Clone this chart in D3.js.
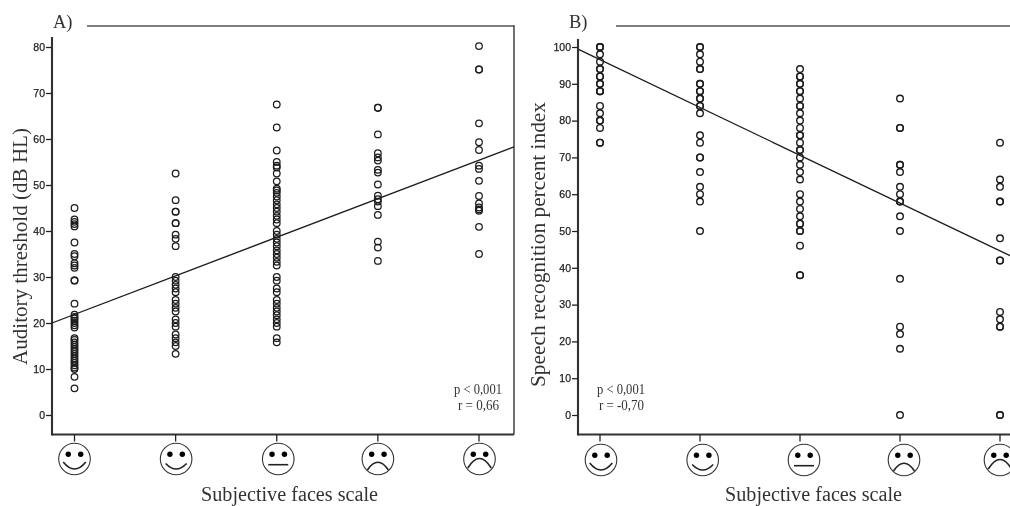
<!DOCTYPE html>
<html>
<head>
<meta charset="utf-8">
<script src="https://cdnjs.cloudflare.com/ajax/libs/d3/7.8.5/d3.min.js"></script>
<style>
html,body{margin:0;padding:0;background:#fff;overflow:hidden}
svg{display:block}
.serif{font-family:"Liberation Serif",serif;fill:#333}
.tick text{font-family:"Liberation Sans",Arial,sans-serif;font-size:10.5px;fill:#222;stroke:#222;stroke-width:.25px}
</style>
</head>
<body>
<svg id="chart" width="1010" height="506"></svg>
<script>
const faces = ["big", "smile", "flat", "sad", "bigsad"];
const yTicksA = [0,10,20,30,40,50,60,70,80];
const yTicksB = [0,10,20,30,40,50,60,70,80,90,100];

const a1 = [45,42.5,42,41.5,41,37.5,35,34.5,33,32.5,32,29.3,29.2,24.2,21.8,21.3,21,20.5,20,19.5,19,16.7,16.3,15.8,15.3,14.8,14.3,13.8,13.3,12.8,12.3,11.8,11.3,10.8,10.3,10,8.3,5.8];
const a2 = [52.5,46.7,44.2,44.2,41.7,41.7,39.2,38.3,36.7,30,29.2,28.3,27.5,26.7,25,24.2,23.3,22.5,20.8,20,19.2,17.5,16.7,15.8,15,13.3];
const a3 = [67.5,62.5,57.5,55,54.2,53.8,52.5,50.8,49.2,48.8,48.3,47.5,46.7,45.8,45,44.2,43.3,42.5,41.7,40,39.2,38.3,37.5,36.7,35.8,35,34.2,33.3,32.5,30,29.2,27.5,26.7,25,24.2,23.3,22.5,21.7,20.8,20,19.2,16.7,15.8];
const a4 = [66.8,66.8,61,56.9,56,55.3,53.3,52.7,50.1,47.7,46.9,46.4,45.4,43.5,37.7,36.4,33.5];
const a5 = [80.2,75.1,75.1,63.4,59.3,57.6,54.2,53.5,50.9,47.6,46,45.1,44.7,44.4,40.9,35];
const b1 = [100,100,100,98,96,94,94,92,92,90,90,88,88,88,84,82,80,80,78,74,74];
const b2 = [100,100,98,96,94,94,90,90,88,88,86,86,84,84,82,76,74,70,70,66,62,60,58,50];
const b3 = [94,92,92,90,90,88,88,86,84,84,82,80,78,76,76,74,72,72,70,68,66,64,60,58,56,54,52,52,50,50,46,38,38];
const b4 = [86,78,78,68,68,66,62,60,58,58,54,50,37,24,22,18,0];
const b5 = [74,64,62,58,58,48,42,42,28,26,24,24,0,0];
const seriesA = [a1,a2,a3,a4,a5];
const seriesB = [b1,b2,b3,b4,b5];
const fitAx = [0.7775,5.346], fitAy = [20,58.3];
const fitBx = [0.78,5.1],   fitBy = [99.4,43.3];

const svg = d3.select("#chart");
svg.append("defs").append("filter").attr("id","soft")
  .attr("x",0).attr("y",0).attr("width",1).attr("height",1)
  .attr("filterUnits","userSpaceOnUse").attr("width",1010).attr("height",506)
  .append("feGaussianBlur").attr("stdDeviation",0.35);
const root = svg.append("g").attr("filter","url(#soft)");
const top_ = 26, bottom = 434.5, y0px = 415, y80px = 47;

const mouths = {
  big:    p=>{p.moveTo(-11.3,3);p.quadraticCurveTo(0,17,11.3,3);},
  smile:  p=>{p.moveTo(-10.5,4.5);p.quadraticCurveTo(0,15.5,10.5,4.5);},
  flat:   p=>{p.moveTo(-10,5.7);p.lineTo(10,5.7);},
  sad:    p=>{p.moveTo(-10.5,11);p.quadraticCurveTo(0,-4.4,10.5,11);},
  bigsad: p=>{p.moveTo(-11.7,9);p.quadraticCurveTo(0,-10,11.7,9);}
};

function panel(o){
  const g = root.append("g");
  const x = d3.scaleLinear().domain([1,5]).range(o.xr);
  const y = d3.scaleLinear().domain([0,o.ymax]).range([y0px,y80px]);

  g.append("line").attr("x1",o.topFrom).attr("x2",o.right).attr("y1",top_).attr("y2",top_).attr("stroke","#555").attr("stroke-width",1.5);
  if(o.right<1010) g.append("line").attr("x1",o.right).attr("x2",o.right).attr("y1",top_-.7).attr("y2",bottom).attr("stroke","#333").attr("stroke-width",1.4);
  g.append("line").attr("x1",o.left).attr("x2",o.right).attr("y1",bottom).attr("y2",bottom).attr("stroke","#333").attr("stroke-width",1.9);
  g.append("line").attr("x1",o.left).attr("x2",o.left).attr("y1",o.axisTop).attr("y2",bottom+.9).attr("stroke","#333").attr("stroke-width",2.1);

  const ax = g.append("g").attr("transform",`translate(${o.left},0)`)
    .call(d3.axisLeft(y).tickValues(o.ticks).tickSize(6).tickPadding(1));
  ax.select(".domain").remove();
  ax.selectAll(".tick line").attr("stroke","#222").attr("stroke-width",1.3);

  g.selectAll("line.xt").data(faces).join("line").attr("class","xt")
    .attr("x1",(d,i)=>x(i+1)).attr("x2",(d,i)=>x(i+1))
    .attr("y1",bottom).attr("y2",bottom+7).attr("stroke","#222").attr("stroke-width",1.3);

  o.series.forEach((vals,i)=>{
    g.append("g").selectAll("circle").data(vals).join("circle")
      .attr("cx",x(i+1)).attr("cy",d=>y(d)).attr("r",3.3)
      .attr("fill","none").attr("stroke","#1c1c1c").attr("stroke-width",o.sw);
  });

  const ln = d3.line().x(d=>x(d[0])).y(d=>y(d[1]));
  g.append("path").attr("d",ln(d3.zip(o.fx,o.fy))).attr("fill","none").attr("stroke","#1c1c1c").attr("stroke-width",1.3);

  faces.forEach((f,i)=>{
    const cx = x(i+1)+o.faceDx[i], cy = o.faceY;
    const fg = g.append("g").attr("transform",`translate(${cx},${cy})`);
    fg.append("circle").attr("r",15.8).attr("fill","#fff").attr("stroke","#333").attr("stroke-width",1.1);
    fg.selectAll("circle.eye").data([-6.2,6.2]).join("circle").attr("class","eye")
      .attr("cx",d=>d).attr("cy",-4.7).attr("r",2.7).attr("fill","#000");
    const p = d3.path();
    mouths[f](p);
    fg.append("path").attr("d",p.toString()).attr("fill","none").attr("stroke","#222").attr("stroke-width",1.6);
  });

  g.append("text").attr("class","serif").attr("x",o.tagX).attr("y",28).attr("font-size",18.5).text(o.tag);
  g.append("text").attr("class","serif").attr("x",o.xTitleX).attr("y",501).attr("font-size",20)
    .attr("textLength",o.xTitleW).attr("lengthAdjust","spacingAndGlyphs").text("Subjective faces scale");
  g.append("text").attr("class","serif")
    .attr("transform",`translate(${o.yTitleX},${o.yTitleBottom}) rotate(-90)`)
    .attr("font-size",20.5).attr("textLength",o.yTitleLen).attr("lengthAdjust","spacingAndGlyphs").text(o.yTitle);
  o.notes.forEach(n=>{
    g.append("text").attr("class","serif").attr("x",n.x).attr("y",n.y).attr("font-size",15)
      .attr("textLength",n.w).attr("lengthAdjust","spacingAndGlyphs").text(n.t);
  });
}

panel({
  xr:[74.5,479], ymax:80, ticks:yTicksA, series:seriesA, fx:fitAx, fy:fitAy, sw:1.25,
  left:52, right:514, topFrom:87, axisTop:37, faceY:459, faceDx:[0,.5,1.5,0,.5],
  tag:"A)", tagX:53, xTitleX:201, xTitleW:177,
  yTitle:"Auditory threshold (dB HL)", yTitleX:27, yTitleBottom:365, yTitleLen:237,
  notes:[{t:"p < 0,001",x:454,y:393.5,w:48},{t:"r = 0,66",x:458,y:410,w:41}]
});
panel({
  xr:[600,1000], ymax:100, ticks:yTicksB, series:seriesB, fx:fitBx, fy:fitBy, sw:1.4,
  left:578, right:1011, topFrom:616, axisTop:39, faceY:460, faceDx:[1,2.7,4,4,0],
  tag:"B)", tagX:569, xTitleX:725, xTitleW:177,
  yTitle:"Speech recognition percent index", yTitleX:545, yTitleBottom:387, yTitleLen:285,
  notes:[{t:"p < 0,001",x:597,y:393.5,w:48},{t:"r = -0,70",x:599,y:410,w:45}]
});
</script>
</body>
</html>
